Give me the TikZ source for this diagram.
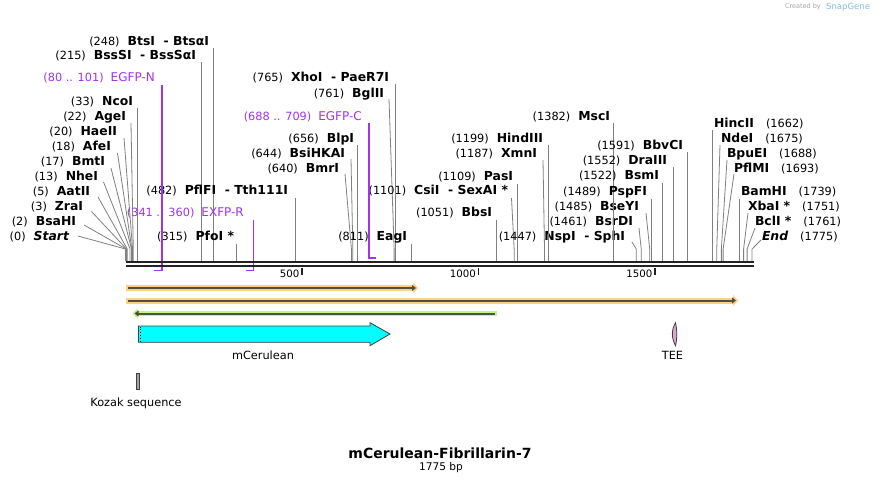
\documentclass[tikz,border=0pt]{standalone}
\usepackage{fontspec}
\setmainfont{DejaVu Sans}
\usetikzlibrary{arrows.meta}

\definecolor{cutgray}{RGB}{128,128,128}
\definecolor{oligopurple}{RGB}{160,50,240}
\definecolor{spinecol}{RGB}{34,34,34}
\definecolor{orangeband}{RGB}{255,208,128}
\definecolor{greenband}{RGB}{196,242,140}
\definecolor{featcore}{RGB}{80,80,64}
\definecolor{ceruleanfill}{RGB}{0,255,255}
\definecolor{teefill}{RGB}{216,168,208}
\definecolor{kozakfill}{RGB}{160,164,168}
\definecolor{edgegray}{RGB}{64,64,64}
\definecolor{snapblue}{RGB}{140,185,220}

\newcommand{\numfont}{\fontsize{11.3}{13}\selectfont}
\newcommand{\enzfont}{\fontsize{12.4}{14}\selectfont\bfseries}
\newcommand{\cutL}[2]{{\numfont #1}\hspace{8pt}{\enzfont #2}}
\newcommand{\cutR}[2]{{\enzfont #1}\hspace{12pt}{\numfont #2}}
\newcommand{\oligo}[2]{{\numfont #1}\hspace{7pt}{\fontsize{12}{14}\selectfont #2}}
\newcommand{\bp}[1]{125.5+0.353*#1}

\tikzset{
	cutline/.style={draw=cutgray, line width=0.8pt},
	sitetext/.style={inner sep=0pt, outer sep=0pt},
	oligoline/.style={draw=oligopurple, line width=1.4pt},
	oligotext/.style={inner sep=0pt, text=oligopurple},
	spine/.style={draw=spinecol, line width=2.3pt},
	tickmark/.style={draw=spinecol, line width=1.6pt},
	featlabel/.style={inner sep=0pt, font=\fontsize{11.3}{13}\selectfont},
	orangearrow/.style={draw=orangeband, line width=6pt, -{Triangle[length=5pt,width=11pt]}},
	greenarrow/.style={draw=greenband, line width=5pt, {Triangle[length=5pt,width=10pt]}-},
	corearrow/.style={draw=featcore, line width=2pt},
}

\begin{document}
\begin{tikzpicture}[x=1pt,y=-1pt]
	\useasboundingbox[fill=white] (0,0) rectangle (881,484);

	\foreach \p/\lx/\ly/\dx/\dy/\name in {
		0/69/237/9/-1/{\itshape Start},
		2/76/222/8/3/BsaHI,
		3/83/207/8.5/4.5/ZraI,
		5/90/192/8/5/AatII,
		13/98/177/5.5/5/NheI,
		17/105/162/6/6/BmtI,
		18/111/147/6.5/6/AfeI,
		20/117/132/7/6/HaeII,
		22/126/117/5/6/AgeI,
		640/339/169/6/5/BmrI,
		644/345/154/6/5/BsiHKAI,
		761/384/94/5/5/BglII,
		1101/508/191/3.5/7/CsiI\ \ -\ SexAI *,
		1187/537/154/6/6/XmnI,
		1447/625/237/7/5/NspI\ \ -\ SphI,
		1461/633/222/6/6/BsrDI,
		1485/639/207/7/6/BseYI}
	{
		\coordinate (s\p) at ({\bp{\p}},261);
		\node[sitetext, anchor=east] (l\p) at (\lx,\ly) {\cutL{(\p)}{\name}};
		\draw[cutline] ([xshift=\dx, yshift=-\dy]l\p.east) -- ([yshift=12pt]s\p) -- (s\p);
	}

	\foreach \p/\lx/\ly/\name in {
		33/133/102/NcoI,
		215/196/56/BssSI\ \ -\ BssSαI,
		248/209/42/BtsI\ \ -\ BtsαI,
		315/234/237/PfoI *,
		482/288/191/PflFI\ \ -\ Tth111I,
		656/354/139/BlpI,
		765/389/78/XhoI\ \ -\ PaeR7I,
		811/407/237/EagI,
		1051/492/213/BbsI,
		1109/513/177/PasI,
		1199/543/139/HindIII,
		1382/610/117/MscI,
		1489/647/192/PspFI,
		1522/659/176/BsmI,
		1552/667/161/DraIII,
		1591/683/146/BbvCI}
	{
		\coordinate (s\p) at ({\bp{\p}},261);
		\node[sitetext, anchor=east] (l\p) at (\lx,\ly) {\cutL{(\p)}{\name}};
		\coordinate (t\p) at (l\p.east -| s\p);
		\draw[cutline] ([yshift=-6.5pt]t\p) -- (s\p);
	}

	\foreach \p/\lx/\ly/\dx/\dy/\name in {
		1675/721/139/1/6/NdeI,
		1688/727/154/0/6/BpuEI,
		1693/734/169/0/5/PflMI,
		1751/748/207/0/6/XbaI *,
		1761/755/222/0/6/BclI *,
		1775/762/237/1/3/{\itshape End}}
	{
		\coordinate (s\p) at ({\bp{\p}},261);
		\node[sitetext, anchor=west] (l\p) at (\lx,\ly) {\cutR{\name}{(\p)}};
		\draw[cutline] ([xshift=-\dx, yshift=-\dy]l\p.west) -- ([yshift=12pt]s\p) -- (s\p);
	}

	\foreach \p/\lx/\ly/\name in {
		1662/714/124/HincII,
		1739/741/192/BamHI}
	{
		\coordinate (s\p) at ({\bp{\p}},261);
		\node[sitetext, anchor=west] (l\p) at (\lx,\ly) {\cutR{\name}{(\p)}};
		\coordinate (t\p) at (l\p.west -| s\p);
		\draw[cutline] ([yshift=-6.5pt]t\p) -- (s\p);
	}

	\node[oligotext, anchor=east] (egfpN) at (155,78) {\oligo{(80 .. 101)}{EGFP-N}};
	\coordinate (egfpNa) at ({\bp{80}},270.5);
	\coordinate (egfpNb) at ({\bp{101}+1},270.5);
	\draw[oligoline] ([yshift=-7pt]egfpN.east -| egfpNb) -- (egfpNb) -- (egfpNa);

	\node[oligotext, anchor=east] (exfpR) at (244,213) {\oligo{(341 .. 360)}{EXFP-R}};
	\coordinate (exfpRa) at ({\bp{341}},270.5);
	\coordinate (exfpRb) at ({\bp{360}+0.7},270.5);
	\draw[oligoline] ([yshift=-7pt]exfpR.east -| exfpRb) -- (exfpRb) -- (exfpRa);

	\node[oligotext, anchor=east] (egfpC) at (362,117) {\oligo{(688 .. 709)}{EGFP-C}};
	\coordinate (egfpCa) at ({\bp{688}+0.7},258);
	\coordinate (egfpCb) at ({\bp{709}+0.5},258);
	\draw[oligoline] ([yshift=-6pt]egfpC.east -| egfpCa) -- (egfpCa) -- (egfpCb);

	\coordinate (bbL) at (126,262);
	\coordinate (bbR) at (754,262);
	\draw[spine] (bbL) -- (bbR);
	\draw[spine] ([yshift=-4.2pt]bbL) -- ([yshift=-4.2pt]bbR);

	\foreach \t in {500,1000,1500}
	{
		\coordinate (k\t) at ({\bp{\t}},268);
		\draw[tickmark] (k\t) -- ++(0,7);
		\node[inner sep=0pt, anchor=east, font=\fontsize{10.2}{12}\selectfont] (kl\t) at ([xshift=-2.5pt, yshift=-6pt]k\t) {\t};
	}

	\coordinate (orfAa) at (126,288);
	\coordinate (orfAb) at (418,288);
	\draw[orangearrow] (orfAa) -- (orfAb);
	\draw[corearrow, -{Triangle[length=4pt,width=6pt]}] ([xshift=2pt]orfAa) -- ([xshift=-2pt]orfAb);

	\coordinate (orfBa) at (126,300.5);
	\coordinate (orfBb) at (738,300.5);
	\draw[orangearrow] (orfBa) -- (orfBb);
	\draw[corearrow, -{Triangle[length=4pt,width=6pt]}] ([xshift=2pt]orfBa) -- ([xshift=-2pt]orfBb);

	\coordinate (orfCa) at (132.5,313.5);
	\coordinate (orfCb) at (497,313.5);
	\draw[greenarrow] (orfCa) -- (orfCb);
	\draw[corearrow, {Triangle[length=4pt,width=6pt]}-] ([xshift=2pt]orfCa) -- ([xshift=-2pt]orfCb);

	\draw[fill=ceruleanfill, draw=edgegray, line width=0.8pt]
		(138.5,326) -- (370,326) -- (370,322.7) -- (390,334) -- (370,345.7) -- (370,342.3) -- (138.5,342.3) -- cycle;
	\draw[black, line width=0.8pt, dotted] (140.6,326.5) -- (140.6,341.8);
	\node[featlabel] (cerLbl) at (263,355) {mCerulean};

	\draw[fill=teefill, draw=edgegray, line width=0.8pt]
		(675.5,322.7) .. controls (671.3,330) and (671.3,338) .. (675.5,345.7)
		.. controls (677.3,338) and (677.3,330) .. (675.5,322.7) -- cycle;
	\node[featlabel] (teeLbl) at (672.5,355) {TEE};

	\draw[fill=kozakfill, draw=edgegray, line width=0.8pt] (136.2,373) rectangle (139.8,389);
	\node[featlabel] (kozakLbl) at (136,403) {Kozak sequence};

	\node[inner sep=0pt, font=\fontsize{14}{16}\selectfont\bfseries] (title) at (440,453) {mCerulean-Fibrillarin-7};
	\node[inner sep=0pt, font=\fontsize{10.6}{12}\selectfont] (size) at (441,468) {1775 bp};

	\node[inner sep=0pt, anchor=east, text=gray!70, font=\fontsize{6.5}{8}\selectfont] (createdBy) at (821,7) {Created by};
	\node[inner sep=0pt, anchor=west, text=snapblue, font=\fontsize{8.5}{10}\selectfont] (snapgene) at (826,7) {SnapGene};
\end{tikzpicture}
\end{document}
